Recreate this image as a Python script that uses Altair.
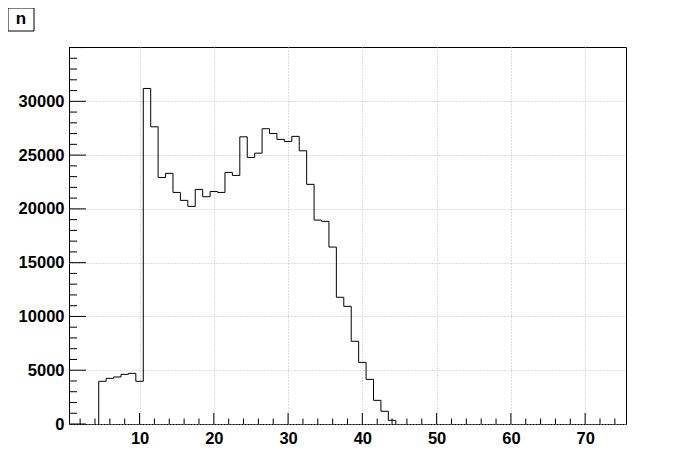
import altair as alt
import pandas as pd

# Histogram of "n": bin width 1, bins centred on integers
bin_centers = list(range(5, 45))
counts = [3970, 4245, 4370, 4615, 4710, 3970, 31195, 27630, 22920, 23300,
          21530, 20790, 20230, 21810, 21130, 21620, 21530, 23390, 23110, 26700,
          24780, 25180, 27450, 27010, 26460, 26270, 26740, 25400, 22280, 18960,
          18840, 16450, 11780, 10940, 7690, 5730, 4150, 2200, 1180, 340]
x_labels = [10, 20, 30, 40, 50, 60, 70]
y_labels = [0, 5000, 10000, 15000, 20000, 25000, 30000]
x_domain = [0.5, 75.5]
y_domain = [0, 35050]
title_text = "n"

W, H = 557, 377
FONT = "Liberation Sans"
GRID = "#bcbcbc"

edges = [c - 0.5 for c in bin_centers]
rows = [{"i": 0, "x": edges[0], "y": 0}]
for k, (e, c) in enumerate(zip(edges, counts)):
    rows.append({"i": k + 1, "x": e, "y": c})
rows.append({"i": len(rows), "x": edges[-1] + 1, "y": 0})
hist_df = pd.DataFrame(rows)

xs = alt.Scale(domain=x_domain, nice=False, zero=False)
ys = alt.Scale(domain=y_domain, nice=False, zero=False)

x_axis = alt.Axis(values=x_labels, grid=True, gridColor=GRID, gridDash=[1, 2],
                  ticks=False, domain=False, labelFont=FONT, labelFontWeight="bold",
                  labelFontSize=16.5, labelColor="black", labelPadding=6, title=None,
                  format="d")
y_axis = alt.Axis(values=y_labels, grid=True, gridColor=GRID, gridDash=[1, 2],
                  ticks=False, domain=False, labelFont=FONT, labelFontWeight="bold",
                  labelFontSize=16.5, labelColor="black", labelPadding=5, title=None,
                  format="d")

hist = alt.Chart(hist_df).mark_line(interpolate="step-after", color="black",
                                    strokeWidth=1).encode(
    x=alt.X("x:Q", scale=xs, axis=x_axis),
    y=alt.Y("y:Q", scale=ys, axis=y_axis),
    order="i:Q",
)

y_major = pd.DataFrame({"v": [v for v in range(0, 35001, 1000) if v % 5000 == 0]})
y_minor = pd.DataFrame({"v": [v for v in range(0, 35001, 1000) if v % 5000 != 0]})
x_major = pd.DataFrame({"v": [v for v in range(2, 75, 2) if v % 10 == 0]})
x_minor = pd.DataFrame({"v": [v for v in range(2, 75, 2) if v % 10 != 0]})

def yticks(df, length):
    return alt.Chart(df).mark_rule(color="black", strokeWidth=1).encode(
        y=alt.Y("v:Q", scale=ys, axis=y_axis), x=alt.value(0), x2=alt.value(length))

def xticks(df, length):
    return alt.Chart(df).mark_rule(color="black", strokeWidth=1).encode(
        x=alt.X("v:Q", scale=xs, axis=x_axis), y=alt.value(H), y2=alt.value(H - length))

box_df = pd.DataFrame({"t": [title_text]})
box = alt.Chart(box_df).mark_rect(fill="white", stroke="black", strokeWidth=1).encode(
    x=alt.value(-61), x2=alt.value(-35), y=alt.value(-39), y2=alt.value(-16))
box_text = alt.Chart(box_df).mark_text(font=FONT, fontWeight="bold", fontSize=17,
                                       color="black", baseline="middle", align="center").encode(
    x=alt.value(-48), y=alt.value(-28), text="t:N")

chart = alt.layer(
    hist, yticks(y_major, 17), yticks(y_minor, 8), xticks(x_major, 11), xticks(x_minor, 5.5),
    box, box_text,
).properties(
    width=W, height=H,
    background="white",
    autosize=alt.AutoSizeParams(type="none"),
    padding={"left": 61, "top": 39, "right": 50, "bottom": 40},
).configure_view(stroke="black", strokeWidth=1)

chart.save("out.html", embed_options={"renderer": "svg", "actions": False})
